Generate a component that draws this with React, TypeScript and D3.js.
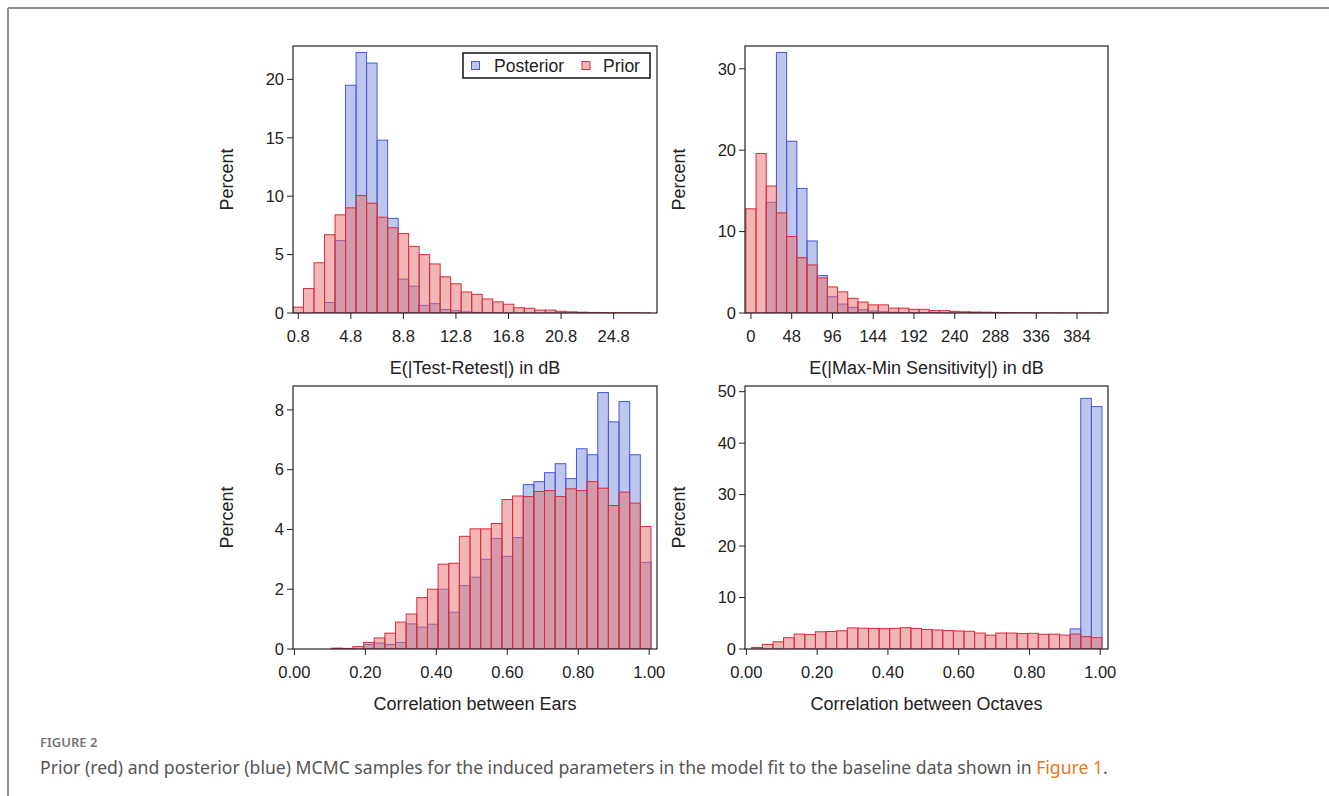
import React from "react";
import * as d3 from "d3";

// E(|Test-Retest|) in dB : bins of 0.8 starting at 0.8
const trBinStart = 0.8;
const trBinWidth = 0.8;
const trPrior = [0.5, 2.1, 4.3, 6.7, 8.4, 9.0, 10.05, 9.4, 8.2, 7.3, 6.8, 5.7, 5.0, 4.2, 3.1, 2.5, 1.8, 1.6, 1.2, 0.95, 0.75, 0.45, 0.4, 0.25, 0.25, 0.15, 0.1, 0.07, 0.05, 0.04, 0.03, 0.02, 0.02, 0.01];
const trPosterior = [0, 0, 0.05, 0.9, 6.2, 19.5, 22.3, 21.4, 14.8, 8.1, 2.9, 2.3, 0.65, 0.8, 0.3, 0.2, 0.1, 0.05, 0.02, 0.01];
const trTicks = [0.8, 4.8, 8.8, 12.8, 16.8, 20.8, 24.8];

// E(|Max-Min Sensitivity|) in dB : bins of 12 starting at 0
const mmBinStart = 0;
const mmBinWidth = 12;
const mmPrior = [12.8, 19.6, 15.6, 12.3, 9.4, 6.8, 5.9, 4.3, 3.2, 2.6, 1.8, 1.35, 1.0, 1.0, 0.6, 0.6, 0.45, 0.45, 0.3, 0.3, 0.2, 0.15, 0.12, 0.1, 0.08, 0.06, 0.05, 0.04, 0.03, 0.03, 0.02, 0.02, 0.01, 0.01, 0.01];
const mmPosterior = [0, 0, 13.6, 32.0, 21.1, 15.3, 8.85, 4.6, 2.0, 1.1, 0.7, 0.4, 0.25, 0.15, 0.1, 0.05, 0.03, 0.02, 0.01];
const mmTicks = [0, 48, 96, 144, 192, 240, 288, 336, 384];

// Correlation between Ears : bins of 0.03 starting at 0.03
const earBinStart = 0.03;
const earBinWidth = 0.03;
const earPrior = [0, 0, 0, 0.03, 0.02, 0.08, 0.22, 0.37, 0.53, 0.9, 1.17, 1.72, 2.0, 2.84, 2.87, 3.77, 4.02, 4.02, 4.2, 5.0, 5.12, 5.1, 5.27, 5.3, 5.1, 5.36, 5.3, 5.6, 5.38, 4.8, 5.25, 4.88, 4.1];
const earPosterior = [0, 0, 0, 0, 0, 0, 0.15, 0.2, 0.15, 0.22, 0.84, 0.73, 0.83, 2.0, 1.23, 2.12, 2.4, 3.0, 3.7, 3.1, 3.73, 5.5, 5.6, 5.9, 6.2, 5.7, 6.7, 6.5, 8.58, 7.6, 8.28, 6.5, 2.9];

// Correlation between Octaves : bins of 0.03 starting at 0.03
const octBinStart = 0.03;
const octBinWidth = 0.03;
const octPrior = [0.3, 0.9, 1.4, 2.2, 2.9, 2.8, 3.35, 3.4, 3.55, 4.1, 4.05, 4.0, 3.95, 4.0, 4.15, 4.0, 3.8, 3.7, 3.6, 3.5, 3.45, 3.1, 2.7, 3.1, 3.1, 3.0, 3.05, 2.85, 2.9, 2.7, 2.9, 2.4, 2.2];
const octPosterior = [0, 0, 0, 0, 0, 0, 0, 0, 0, 0, 0, 0, 0, 0, 0, 0, 0, 0, 0, 0, 0, 0, 0, 0, 0, 0, 0, 0, 0, 0.05, 3.9, 48.7, 47.1];

const corrTicks = [0, 0.2, 0.4, 0.6, 0.8, 1.0];

const BLUE_FILL = "rgb(112,128,210)";
const BLUE_EDGE = "rgb(70,88,225)";
const RED_FILL = "rgb(232,110,110)";
const RED_EDGE = "rgb(215,45,60)";
const FONT = "'Liberation Sans', Arial, sans-serif";
const CAPTION_FONT = "'Noto Sans', 'Open Sans', sans-serif";

function Panel({ id, x0, y0, w, h, xDomain, yMax, yTicks, binStart, binWidth, prior, posterior, xTicks, fmt, title, legend }) {
  const x = d3.scaleLinear().domain(xDomain).range([x0, x0 + w]);
  const y = d3.scaleLinear().domain([0, yMax]).range([y0 + h, y0]);

  const bars = (vals, fill, edge, op) =>
    vals.map((v, i) => {
      if (v <= 0) return null;
      const c = binStart + i * binWidth;
      const l = x(c - binWidth / 2);
      const r = x(c + binWidth / 2);
      return (
        <rect key={i} x={l} y={y(v)} width={r - l} height={y(0) - y(v)}
          fill={fill} fillOpacity={op} stroke={edge} strokeWidth={1} />
      );
    });

  return (
    <g>
      <defs>
        <clipPath id={id}>
          <rect x={x0} y={y0} width={w} height={h} />
        </clipPath>
      </defs>
      <g clipPath={`url(#${id})`}>
        {bars(posterior, BLUE_FILL, BLUE_EDGE, 0.45)}
        {bars(prior, RED_FILL, RED_EDGE, 0.5)}
      </g>
      <rect x={x0} y={y0} width={w} height={h} fill="none" stroke="#222" strokeWidth={1.2} />
      {yTicks.map((t) => (
        <g key={t}>
          <line x1={x0 - 6} x2={x0} y1={y(t)} y2={y(t)} stroke="#222" />
          <text x={x0 - 9} y={y(t)} dy="0.35em" textAnchor="end" fontSize={16.5} fill="#222">{t}</text>
        </g>
      ))}
      {xTicks.map((t) => (
        <g key={t}>
          <line x1={x(t)} x2={x(t)} y1={y0 + h} y2={y0 + h + 6} stroke="#222" />
          <text x={x(t)} y={y0 + h + 29} textAnchor="middle" fontSize={16.5} fill="#222">{fmt(t)}</text>
        </g>
      ))}
      <text x={x0 + w / 2} y={y0 + h + 61} textAnchor="middle" fontSize={18} fill="#222">{title}</text>
      <text transform={`translate(${x0 - 60},${y0 + h / 2}) rotate(-90)`} textAnchor="middle" fontSize={18} fill="#222">Percent</text>
      {legend && (
        <g transform={`translate(${x0 + w - 194},${y0 + 7})`}>
          <rect x={0} y={0} width={187} height={25} fill="white" stroke="#111" strokeWidth={1.5} />
          <rect x={8.5} y={8.5} width={8} height={8} fill={BLUE_FILL} fillOpacity={0.45} stroke={BLUE_EDGE} />
          <text x={31} y={19} fontSize={17.5} fill="#222">Posterior</text>
          <rect x={119} y={8.5} width={8} height={8} fill={RED_FILL} fillOpacity={0.5} stroke={RED_EDGE} />
          <text x={140} y={19} fontSize={17.5} fill="#222">Prior</text>
        </g>
      )}
    </g>
  );
}

export default function App() {
  const f1 = d3.format(".1f");
  const f2 = d3.format(".2f");
  const f0 = d3.format("d");
  return (
    <svg width={1329} height={796} style={{ position: "absolute", left: 0, top: 0, background: "white" }} fontFamily={FONT}>
      <rect x={0} y={0} width={1329} height={796} fill="white" />
      <line x1={8} y1={8} x2={1329} y2={8} stroke="#8f8f8f" strokeWidth={2} />
      <line x1={8} y1={8} x2={8} y2={796} stroke="#8f8f8f" strokeWidth={2} />

      <Panel id="c1" x0={293} y0={46} w={364} h={267} xDomain={[0.4, 28.1]} yMax={22.86} yTicks={[0, 5, 10, 15, 20]}
        binStart={trBinStart} binWidth={trBinWidth} prior={trPrior} posterior={trPosterior}
        xTicks={trTicks} fmt={f1} title="E(|Test-Retest|) in dB" legend />
      <Panel id="c2" x0={745} y0={46} w={363} h={267} xDomain={[-7, 420.5]} yMax={32.8} yTicks={[0, 10, 20, 30]}
        binStart={mmBinStart} binWidth={mmBinWidth} prior={mmPrior} posterior={mmPosterior}
        xTicks={mmTicks} fmt={f0} title="E(|Max-Min Sensitivity|) in dB" />
      <Panel id="c3" x0={293} y0={386} w={364} h={263} xDomain={[-0.004, 1.022]} yMax={8.8} yTicks={[0, 2, 4, 6, 8]}
        binStart={earBinStart} binWidth={earBinWidth} prior={earPrior} posterior={earPosterior}
        xTicks={corrTicks} fmt={f2} title="Correlation between Ears" />
      <Panel id="c4" x0={745} y0={386} w={363} h={263} xDomain={[-0.004, 1.022]} yMax={51.1} yTicks={[0, 10, 20, 30, 40, 50]}
        binStart={octBinStart} binWidth={octBinWidth} prior={octPrior} posterior={octPosterior}
        xTicks={corrTicks} fmt={f2} title="Correlation between Octaves" />

      <text x={40} y={746.5} fontFamily={CAPTION_FONT} fontSize={13} fontWeight={600} fill="#777">FIGURE 2</text>
      <text x={40} y={774} fontFamily={CAPTION_FONT} fontSize={17.6} fill="#555">
        Prior (red) and posterior (blue) MCMC samples for the induced parameters in the model fit to the baseline data shown in{" "}
        <tspan fill="#e87722">Figure 1</tspan>.
      </text>
    </svg>
  );
}
